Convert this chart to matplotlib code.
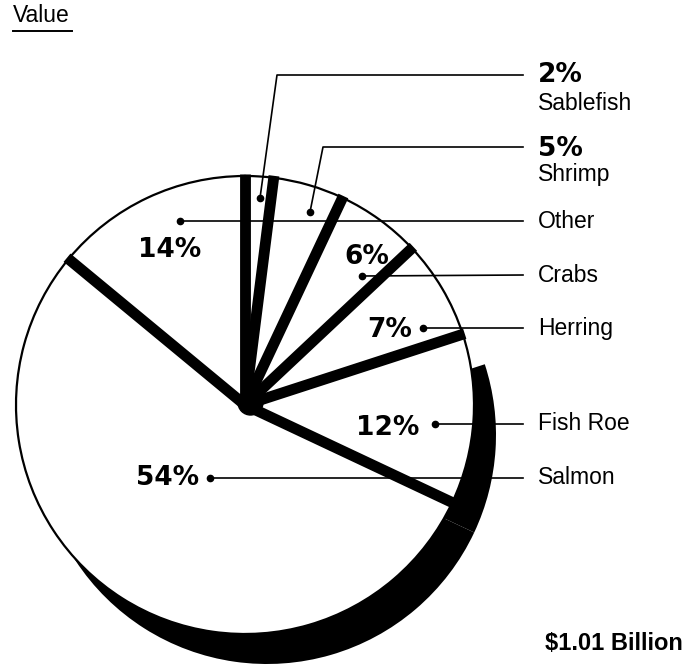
import numpy as np
import matplotlib
matplotlib.use("Agg")
import matplotlib.pyplot as plt

# fishery value shares, clockwise from 12 o'clock
names = ["Sablefish", "Shrimp", "Crabs", "Herring", "Fish Roe", "Salmon", "Other"]
shares = [2, 5, 6, 7, 12, 54, 14]
pct_labels = ["2%", "5%", "6%", "7%", "12%", "54%", "14%"]
total_label = "$1.01 Billion"
title = "Value"

W, H = 688, 668
def Y(y):
    # picture rows -> data y (origin at bottom)
    return H - y

fig = plt.figure(figsize=(W / 100, H / 100), dpi=100)
ax = fig.add_axes([0, 0, 1, 1])

cx, cy, R = 245, Y(405), 229
sx, sy = 22, -30  # shadow offset

# shadow under fish roe and salmon
shadow_cols = ["none", "none", "none", "none", "black", "black", "none"]
ax.pie(shares, startangle=90, counterclock=False, center=(cx + sx, cy + sy), radius=R,
       colors=shadow_cols, wedgeprops=dict(linewidth=0), frame=True)
# main pie
ax.pie(shares, startangle=90, counterclock=False, center=(cx, cy), radius=R,
       colors=["white"] * len(shares),
       wedgeprops=dict(edgecolor="black", linewidth=1.6), frame=True)

# thick black separators between slices
bounds = 90 - 3.6 * np.concatenate([[0], np.cumsum(shares)[:-1]])
for a in bounds:
    t = np.radians(a)
    ax.plot([cx, cx + (R + 2) * np.cos(t)], [cy, cy + (R + 2) * np.sin(t)],
            color="black", lw=7.8, solid_capstyle="butt", zorder=3)
ax.plot(cx + 5, cy + 3, "o", color="black", ms=18, zorder=3)

# leader lines: dot inside slice -> label on the right
lx_end, tx = 523, 538
dots = {"Sablefish": (260, 198), "Shrimp": (310, 212), "Other": (180, 221),
        "Crabs": (362, 276), "Herring": (423, 328), "Fish Roe": (435, 424),
        "Salmon": (210, 478)}
label_y = {"Sablefish": 75, "Shrimp": 147, "Other": 221, "Crabs": 275,
           "Herring": 328, "Fish Roe": 424, "Salmon": 478}
knee = {"Sablefish": 277, "Shrimp": 323}

for n in names:
    dx_, dy_ = dots[n]
    ly = label_y[n]
    if n in knee:
        xs = [dx_, knee[n], lx_end]
        ys = [Y(dy_), Y(ly), Y(ly)]
    else:
        xs = [dx_, lx_end]
        ys = [Y(dy_), Y(ly)]
    ax.plot(xs, ys, color="black", lw=1.2, zorder=4)
    ax.plot(dx_, Y(dy_), "o", color="black", ms=4.5, zorder=5)

reg = dict(family="Liberation Sans", fontsize=16.5, va="center", ha="left")
heavy = dict(family="DejaVu Sans", fontweight="bold", fontsize=19, va="center")

# right-hand labels
ax.text(tx, Y(75), pct_labels[0], ha="left", **heavy)
ax.text(tx, Y(103), "Sablefish", **reg)
ax.text(tx, Y(149), pct_labels[1], ha="left", **heavy)
ax.text(tx, Y(175), "Shrimp", **reg)
for n in ["Other", "Crabs", "Herring", "Fish Roe", "Salmon"]:
    ax.text(tx, Y(label_y[n]), n, **reg)

# percentages inside slices
inside = {"Crabs": (367, 257), "Herring": (390, 330), "Fish Roe": (388, 428),
          "Salmon": (168, 478), "Other": (170, 250)}
for n, (px, py) in inside.items():
    ax.text(px, Y(py), pct_labels[names.index(n)], ha="center", zorder=6, **heavy)

ax.text(683, Y(643), total_label, family="Liberation Sans", fontweight="bold",
        fontsize=17, ha="right", va="center")

ax.text(13, Y(16), title, family="Liberation Sans", fontsize=16.5, ha="left", va="center")
ax.plot([13, 72], [Y(31), Y(31)], color="black", lw=1.4)

ax.set_xlim(0, W)
ax.set_ylim(0, H)
ax.set_aspect("equal")
ax.axis("off")
fig.savefig("out.png", dpi=100, facecolor="white")
